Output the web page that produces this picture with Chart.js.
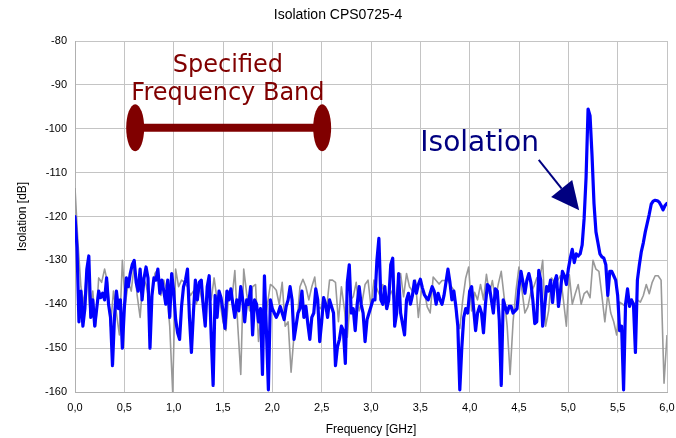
<!DOCTYPE html>
<html>
<head>
<meta charset="utf-8">
<script src="https://cdn.jsdelivr.net/npm/chart.js@4/dist/chart.umd.min.js"></script>
<style>
  html, body { margin: 0; padding: 0; background: #fff; }
  #wrap { width: 676px; height: 438px; }
</style>
</head>
<body>
<div id="wrap"><canvas id="chart" width="676" height="438"></canvas></div>
<script>
// sampling grids (GHz) of the two traces
const blueStep = 0.02
const grayStep = 0.03

// isolation trace, blue (dB), 0.00 .. 6.00 GHz
const isolationBlue = [
  -120, -127, -144, -137, -145, -141, -132, -129, -143, -139,
  -145, -141, -137, -138.5, -137.5, -139, -134, -140, -143, -154,
  -143, -137, -141, -139, -150, -141, -134, -136, -133, -131,
  -130, -135, -137, -132, -139, -134, -131.5, -134, -150, -138,
  -134, -134.5, -132, -137.5, -134.5, -137, -140, -134.5, -143, -133,
  -137, -143.5, -146.5, -148, -140.5, -136, -134.5, -132, -143, -151,
  -142, -134.5, -139, -135, -134.5, -140.5, -145, -136, -133.5, -147,
  -158.5, -138, -143, -137, -138.5, -141.5, -145.5, -137, -139, -136.5,
  -140, -143, -139, -141.5, -136, -139, -144, -139, -140, -136,
  -147, -139, -140, -144, -141, -156, -133.5, -146, -159.5, -139,
  -141, -142, -143, -142, -140.5, -142, -143.5, -140.5, -139, -136,
  -139, -148, -145, -142, -141, -137, -143, -140.5, -144.5, -148,
  -143, -142, -136.5, -139, -148.5, -144, -138.5, -140, -143, -139,
  -140.5, -142, -154, -149.7, -148, -145, -146, -153.5, -135, -131,
  -142, -141, -146, -140, -136, -140, -142, -148.5, -143.5, -142,
  -140.5, -139, -139, -130, -125, -139, -140, -136, -141, -139,
  -131, -129.5, -145, -142, -133, -142, -144.5, -147, -139, -137.5,
  -140, -138, -134.7, -137.5, -135.5, -134.3, -136.2, -137.8, -138.5, -139,
  -137.5, -136, -137, -140, -137.5, -139, -140, -138, -135, -132,
  -135, -139, -137, -140.5, -145, -159.5, -150, -143, -141, -142,
  -137, -136, -141, -146, -142, -140.5, -142, -146.5, -140, -135.5,
  -136, -139, -142, -136.5, -137, -143.6, -158.5, -139, -140.5, -142,
  -140.5, -140.5, -142, -141.5, -141, -136, -132.5, -135, -137.5, -134.5,
  -133, -135, -139, -144.4, -144, -132.3, -134.5, -145, -140.6, -136,
  -137, -134.5, -139.6, -135, -133.5, -140.5, -137, -132.5, -133.5, -135.5,
  -132, -129.5, -127.5, -130.5, -128.5, -129, -128.5, -126.5, -120.5, -111,
  -95.5, -97, -106, -117, -123.5, -126, -128.5, -129.2, -129.5, -131,
  -138, -132.5, -132.5, -133.5, -134.5, -138, -146, -145, -159.5, -140,
  -136.5, -140.5, -139, -140, -151, -134.5, -131, -128, -126, -123.5,
  -121.5, -119.5, -117.2, -116.5, -116.3, -116.4, -116.7, -117.5, -118.5, -117.5, -117
]

// second trace, grey (dB), 0.00 .. 6.00 GHz
const isolationGray = [
  -113.5, -126, -136, -140, -132, -141, -137, -145, -134, -135,
  -132, -135, -145, -137, -142, -147, -130, -140, -135, -137,
  -131, -138, -143, -134, -135.5, -139, -138, -133, -132, -138,
  -134.5, -137, -145, -160, -132, -136, -134.5, -135, -136, -138,
  -137, -140, -136, -139.5, -140, -138, -139, -134, -139, -139.5,
  -144, -146, -137, -139, -132.3, -145, -156, -132, -137.6, -141.5,
  -136, -135.5, -148.5, -141, -145, -140, -135.5, -136, -136.8, -140,
  -135, -145, -144, -155.5, -147, -144, -136, -134.3, -136, -139,
  -136, -133.8, -140.5, -141, -138.5, -141, -134.5, -134.5, -135, -144,
  -136, -141, -147.5, -139, -138.3, -135, -141.5, -139.5, -135.5, -134.5,
  -140.6, -134.5, -136.5, -138, -135.5, -141, -138, -137, -140, -135.5,
  -133, -138.3, -133, -136, -137, -134.5, -143, -137, -137, -140.6,
  -142, -133.8, -134.6, -135.4, -134.6, -134.6, -134.6, -135.8, -136.8, -143.6,
  -145.5, -139, -134, -131.5, -141.5, -137.3, -139, -135.5, -139, -133.2,
  -137.6, -134.6, -139, -135.4, -132.5, -138.5, -145, -156, -144, -136.8,
  -131.5, -136.8, -142, -140.6, -137.3, -136, -134, -134.5, -130, -145,
  -141.5, -134, -135, -134.6, -133.5, -139, -145, -133.3, -140, -137.6,
  -135.5, -140, -137.6, -137, -138.5, -130, -132, -132.5, -138, -144,
  -137.6, -142, -144, -147, -139.5, -140, -140.5, -138.5, -139.5, -140,
  -139, -139.5, -138, -135.5, -137.6, -135, -133.5, -133.5, -134.5, -158, -147
]

const yTicks = [-160, -150, -140, -130, -120, -110, -100, -90, -80]
const xTicks = [0, 0.5, 1, 1.5, 2, 2.5, 3, 3.5, 4, 4.5, 5, 5.5, 6]

const toPoints = (vals, step) => vals.map((v, i) => ({ x: +(i * step).toFixed(3), y: v }))

// text, band and arrow drawn on top of the plot
const annotations = {
  id: 'annotations',
  afterDatasetsDraw(chart) {
    const { ctx, scales: { x, y } } = chart
    ctx.save()

    // specified frequency band
    const bx1 = x.getPixelForValue(0.61)
    const bx2 = x.getPixelForValue(2.505)
    const by = y.getPixelForValue(-99.8)
    ctx.fillStyle = '#800000'
    ctx.strokeStyle = '#800000'
    ctx.lineWidth = 8
    ctx.beginPath()
    ctx.moveTo(bx1, by)
    ctx.lineTo(bx2, by)
    ctx.stroke()
    for (const cx of [bx1, bx2]) {
      ctx.beginPath()
      ctx.ellipse(cx, by, 9, 23.5, 0, 0, Math.PI * 2)
      ctx.fill()
    }
    ctx.font = '24px "DejaVu Sans"'
    ctx.textAlign = 'center'
    ctx.textBaseline = 'alphabetic'
    const tx = x.getPixelForValue(1.55)
    ctx.fillText('Specified', tx, by - 56)
    ctx.fillText('Frequency Band', tx, by - 28)

    // isolation label + arrow
    ctx.fillStyle = '#000080'
    ctx.strokeStyle = '#000080'
    ctx.font = '28px "DejaVu Sans"'
    ctx.textAlign = 'left'
    ctx.fillText('Isolation', x.getPixelForValue(3.5), y.getPixelForValue(-105.1))

    const ax = x.getPixelForValue(4.70), ay = y.getPixelForValue(-107.1)
    const tipX = x.getPixelForValue(5.11), tipY = y.getPixelForValue(-118.6)
    const ang = Math.atan2(tipY - ay, tipX - ax)
    const headLen = 28, headHalf = 13.5
    const baseX = tipX - headLen * Math.cos(ang), baseY = tipY - headLen * Math.sin(ang)
    ctx.lineWidth = 2
    ctx.beginPath()
    ctx.moveTo(ax, ay)
    ctx.lineTo(baseX, baseY)
    ctx.stroke()
    ctx.beginPath()
    ctx.moveTo(tipX, tipY)
    ctx.lineTo(baseX + headHalf * Math.sin(ang), baseY - headHalf * Math.cos(ang))
    ctx.lineTo(baseX - headHalf * Math.sin(ang), baseY + headHalf * Math.cos(ang))
    ctx.closePath()
    ctx.fill()

    ctx.restore()
  }
}

Chart.defaults.font.family = '"Liberation Sans", Arial, sans-serif'
Chart.defaults.color = '#000'

new Chart(document.getElementById('chart').getContext('2d'), {
  type: 'line',
  data: {
    datasets: [{
      label: 'Isolation',
      data: toPoints(isolationBlue, blueStep),
      borderColor: '#0000ff',
      borderWidth: 3.2,
      borderJoinStyle: 'round',
      borderCapStyle: 'round',
      pointRadius: 0,
      tension: 0
    }, {
      label: 'Isolation 2',
      data: toPoints(isolationGray, grayStep),
      borderColor: '#999999',
      borderWidth: 1.6,
      borderJoinStyle: 'round',
      pointRadius: 0,
      tension: 0
    }]
  },
  options: {
    responsive: false,
    animation: false,
    devicePixelRatio: 1,
    layout: { padding: 0 },
    plugins: {
      legend: { display: false },
      tooltip: { enabled: false },
      title: {
        display: true,
        text: 'Isolation CPS0725-4',
        font: { size: 14, weight: 'normal' },
        color: '#000',
        padding: { top: 6.6, bottom: 17.6 }
      }
    },
    scales: {
      x: {
        type: 'linear',
        min: 0,
        max: 6,
        afterBuildTicks: s => { s.ticks = xTicks.map(v => ({ value: v })) },
        afterFit: s => { s.height = 46; s.paddingLeft = 0; s.paddingRight = 9 },
        grid: { color: '#c4c4c4', drawTicks: false },
        border: { color: '#b0b0b0' },
        ticks: {
          padding: 9,
          font: { size: 11 },
          maxRotation: 0,
          callback: v => v.toFixed(1).replace('.', ',')
        },
        title: {
          display: true,
          text: 'Frequency [GHz]',
          font: { size: 12 },
          padding: { top: 0, bottom: 1 }
        }
      },
      y: {
        min: -160,
        max: -80,
        afterBuildTicks: s => { s.ticks = yTicks.map(v => ({ value: v })) },
        afterFit: s => { s.width = 75 },
        grid: { color: '#c4c4c4', drawTicks: false },
        border: { color: '#b0b0b0' },
        ticks: { padding: 8, font: { size: 11 } },
        title: {
          display: true,
          text: 'Isolation [dB]',
          font: { size: 12 },
          padding: { top: 15, bottom: 0 }
        }
      }
    }
  },
  plugins: [annotations]
})
</script>
</body>
</html>
